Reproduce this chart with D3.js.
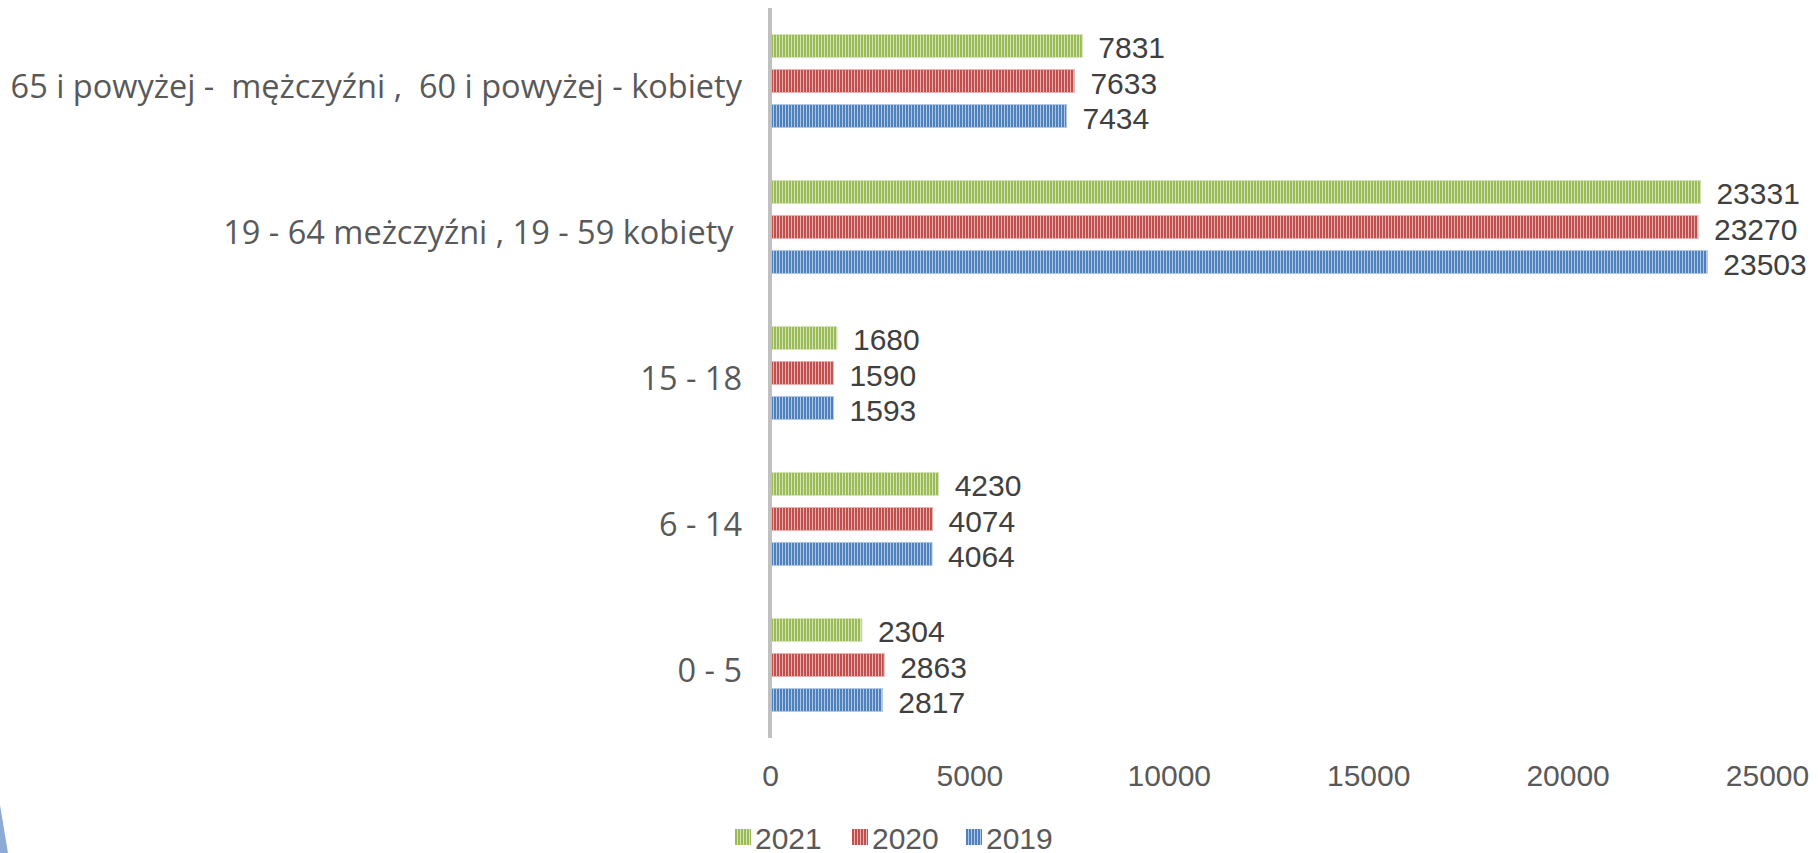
<!DOCTYPE html>
<html>
<head>
<meta charset="utf-8">
<script src="https://cdn.jsdelivr.net/npm/d3@7"></script>
<style>
  html, body { margin: 0; padding: 0; background: #ffffff; }
  svg { display: block; }
  text { font-family: "Liberation Sans", Arial, sans-serif; white-space: pre; }
  .cat { font-family: "Open Sans", "Liberation Sans", sans-serif; }
</style>
</head>
<body>
<svg id="chart" width="1818" height="853"></svg>
<script>
// ---- data ----
const categories = [
  "65 i powyżej -  mężczyźni ,  60 i powyżej - kobiety",
  "19 - 64 meżczyźni , 19 - 59 kobiety ",
  "15 - 18",
  "6 - 14",
  "0 - 5"
];
const seriesNames = ["2021", "2020", "2019"];
const values2021 = [7831, 23331, 1680, 4230, 2304];
const values2020 = [7633, 23270, 1590, 4074, 2863];
const values2019 = [7434, 23503, 1593, 4064, 2817];
const xTicks = [0, 5000, 10000, 15000, 20000, 25000];
const seriesColors = ["#9bbb59", "#c0504d", "#4f81bd"];
const seriesLight = ["#d3e3b3", "#e8b1b0", "#b1c8e5"];

const seriesValues = [values2021, values2020, values2019];

// ---- layout ----
const svg = d3.select("#chart");
const x = d3.scaleLinear().domain([0, 25000]).range([770, 1767]);
const y = d3.scaleBand().domain(categories).range([8, 738]);
const ySeries = d3.scaleBand().domain(seriesNames).range([0, y.bandwidth()])
  .paddingInner(0.343).paddingOuter(0.757);

// patterns
const defs = svg.append("defs");
seriesNames.forEach((s, i) => {
  const p = defs.append("pattern").attr("id", "pat" + i)
    .attr("patternUnits", "userSpaceOnUse").attr("width", 3).attr("height", 10);
  p.append("rect").attr("width", 3).attr("height", 10).attr("fill", seriesLight[i]);
  p.append("rect").attr("width", 2).attr("height", 10).attr("fill", seriesColors[i]);
});

// decorative wedge bottom-left
svg.append("path").attr("d", "M0,805 L8,853 L0,853 Z").attr("fill", "#8eaad6");

// bars
seriesNames.forEach((s, i) => {
  const g = svg.append("g");
  const data = categories.map((c, k) => ({ c, v: seriesValues[i][k] }));
  g.selectAll("rect").data(data).enter().append("rect")
    .attr("x", x(0))
    .attr("y", d => y(d.c) + ySeries(s))
    .attr("width", d => x(d.v) - x(0))
    .attr("height", ySeries.bandwidth())
    .attr("fill", "url(#pat" + i + ")")
    .attr("stroke", seriesLight[i]).attr("stroke-width", 1);
  g.selectAll("text").data(data).enter().append("text")
    .attr("x", d => x(d.v) + 16)
    .attr("y", d => y(d.c) + ySeries(s) + ySeries.bandwidth() / 2 + 2)
    .attr("dominant-baseline", "central")
    .attr("font-size", 30)
    .attr("fill", "#404040")
    .text(d => d.v);
});

// vertical axis line
svg.append("line").attr("x1", x(0)).attr("x2", x(0)).attr("y1", 8).attr("y2", 738)
  .attr("stroke", "#c0c0c0").attr("stroke-width", 4);

// category labels
svg.append("g").selectAll("text").data(categories).enter().append("text")
  .attr("class", "cat")
  .attr("x", 742)
  .attr("y", d => y(d) + y.bandwidth() / 2 + 4)
  .attr("text-anchor", "end")
  .attr("dominant-baseline", "central")
  .attr("font-size", 32.5)
  .attr("fill", "#595959")
  .text(d => d);

// x tick labels
const xAxis = d3.axisBottom(x).tickValues(xTicks).tickSize(0).tickPadding(0).tickFormat(d3.format("d"));
const ax = svg.append("g").attr("transform", "translate(0,765)").call(xAxis);
ax.select(".domain").remove();
ax.selectAll("text").attr("font-size", 30).attr("fill", "#595959")
  .attr("font-family", "Liberation Sans, Arial, sans-serif");

// legend
const legendX = [735, 852, 966];
const legend = svg.append("g");
seriesNames.forEach((s, i) => {
  legend.append("rect").attr("x", legendX[i]).attr("y", 829).attr("width", 16).attr("height", 16)
    .attr("fill", "url(#pat" + i + ")");
  legend.append("text").attr("x", legendX[i] + 20).attr("y", 838)
    .attr("dominant-baseline", "central").attr("font-size", 30).attr("fill", "#595959").text(s);
});
</script>
</body>
</html>
